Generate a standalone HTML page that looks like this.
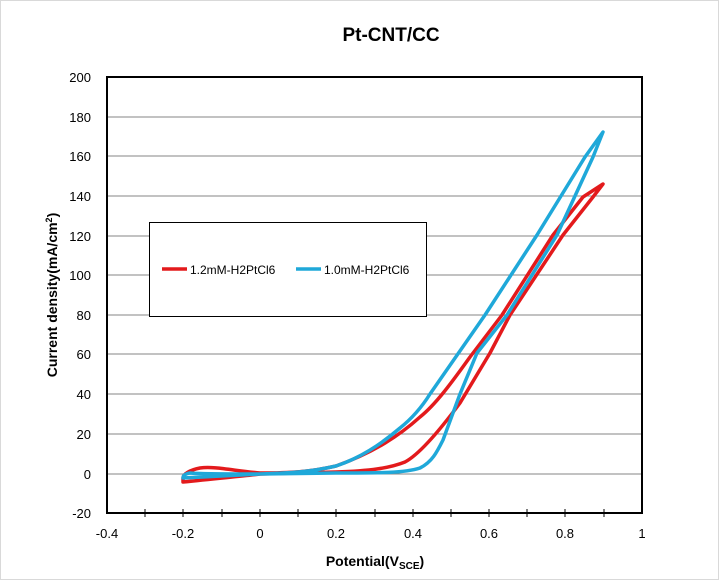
<!DOCTYPE html>
<html><head><style>body{margin:0;background:#fff}svg{display:block;font-family:"Liberation Sans",Calibri,sans-serif}</style></head><body>
<svg width="719" height="580" viewBox="0 0 719 580">
<rect x="0.5" y="0.5" width="718" height="579" fill="#fff" stroke="#d9d9d9"/>
<text x="391" y="41" font-size="19" font-weight="bold" text-anchor="middle">Pt-CNT/CC</text>
<g stroke="#868686" stroke-width="1">
<line x1="107" y1="117" x2="642" y2="117"/><line x1="107" y1="156" x2="642" y2="156"/><line x1="107" y1="196" x2="642" y2="196"/><line x1="107" y1="236" x2="642" y2="236"/><line x1="107" y1="275" x2="642" y2="275"/><line x1="107" y1="315" x2="642" y2="315"/><line x1="107" y1="354" x2="642" y2="354"/><line x1="107" y1="394" x2="642" y2="394"/><line x1="107" y1="434" x2="642" y2="434"/><line x1="107" y1="474" x2="642" y2="474"/>
</g>
<rect x="107" y="77" width="535" height="436" fill="none" stroke="#000" stroke-width="2"/>
<g stroke="#000" stroke-width="1">
<line x1="145" y1="509" x2="145" y2="517"/><line x1="183" y1="509" x2="183" y2="517"/><line x1="222" y1="509" x2="222" y2="517"/><line x1="260" y1="509" x2="260" y2="517"/><line x1="298" y1="509" x2="298" y2="517"/><line x1="336" y1="509" x2="336" y2="517"/><line x1="375" y1="509" x2="375" y2="517"/><line x1="413" y1="509" x2="413" y2="517"/><line x1="451" y1="509" x2="451" y2="517"/><line x1="489" y1="509" x2="489" y2="517"/><line x1="527" y1="509" x2="527" y2="517"/><line x1="565" y1="509" x2="565" y2="517"/><line x1="604" y1="509" x2="604" y2="517"/>
</g>
<g font-size="13" text-anchor="end" fill="#000">
<text x="91" y="82">200</text><text x="91" y="122">180</text><text x="91" y="161">160</text><text x="91" y="201">140</text><text x="91" y="241">120</text><text x="91" y="280">100</text><text x="91" y="320">80</text><text x="91" y="359">60</text><text x="91" y="399">40</text><text x="91" y="439">20</text><text x="91" y="479">0</text><text x="91" y="518">-20</text>
</g>
<g font-size="13" text-anchor="middle">
<text x="107" y="538">-0.4</text><text x="183" y="538">-0.2</text><text x="260" y="538">0</text><text x="336" y="538">0.2</text><text x="413" y="538">0.4</text><text x="489" y="538">0.6</text><text x="565" y="538">0.8</text><text x="642" y="538">1</text>
</g>
<text x="375" y="566" font-size="14" font-weight="bold" text-anchor="middle">Potential(V<tspan font-size="10" dy="3">SCE</tspan><tspan dy="-3">)</tspan></text>
<text transform="translate(57,295) rotate(-90)" font-size="14" font-weight="bold" text-anchor="middle">Current density(mA/cm<tspan font-size="9" dy="-5">2</tspan><tspan dy="5">)</tspan></text>
<g fill="none" stroke-width="3.5" stroke-linejoin="round" stroke-linecap="round">
<path stroke="#e31a1c" d="M183,482 C220,478 245,476 260,474 L336,472 C370,471 390,468 405,462 C420,454 440,430 460,403 L490,353 L510,315 L563,235 L593,197 L603,184 L583,197 L553,235 L502,315 L470,357 C450,385 435,405 420,417 C400,435 375,452 336,466 C310,472 290,473 260,473 C235,471 215,466 200,468 C190,470 183,474 183,478 Z"/>
<path stroke="#1fa8d9" d="M183,478 C220,476 245,475 260,474 L336,473 C380,473 405,473 420,468 C432,462 437,452 443,440 L460,394 L477,353 L507,315 L557,235 L593,157 L603,132 L585,157 L537,235 L485,315 L430,394 C420,410 410,420 400,428 C380,445 360,458 336,466 C310,472 290,473 260,474 C230,474 200,474 190,473 C184,474 183,476 183,478 Z"/>
</g>
<rect x="149.5" y="222.5" width="277" height="94" fill="#fff" stroke="#000"/>
<line x1="162" y1="269" x2="187" y2="269" stroke="#e31a1c" stroke-width="3.5"/>
<text x="190" y="274" font-size="12">1.2mM-H2PtCl6</text>
<line x1="296" y1="269" x2="321" y2="269" stroke="#1fa8d9" stroke-width="3.5"/>
<text x="324" y="274" font-size="12">1.0mM-H2PtCl6</text>
</svg>
</body></html>
